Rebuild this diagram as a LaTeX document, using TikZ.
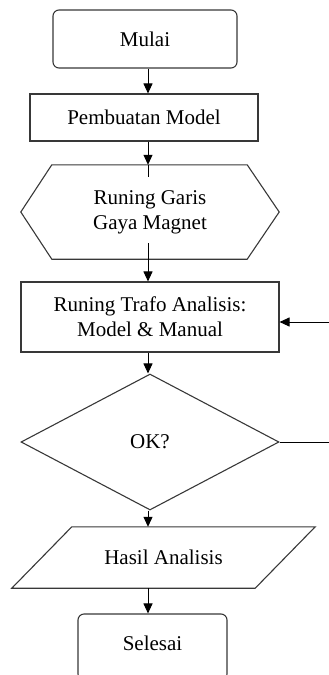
\documentclass[tikz,border=0pt]{standalone}
\usepackage{fontspec}
\setmainfont{Liberation Serif}
\usetikzlibrary{arrows.meta,shapes.geometric,calc}
\begin{document}
\begin{tikzpicture}[x=1pt,y=-1pt,
  every node/.style={font=\rmfamily\fontsize{21}{25}\selectfont, align=center, inner sep=0pt},
  shapeline/.style={draw=black!78, line width=1.1pt},
  rbox/.style={shapeline, rectangle, rounded corners=6pt},
  pbox/.style={shapeline, rectangle},
  arr/.style={-{Triangle[length=10pt,width=9pt]}, line width=1pt, black},
  plain/.style={line width=1pt, black}]
\useasboundingbox (0,0) rectangle (329,675);
\coordinate (cx) at (148,0);
\node[rbox, minimum width=184pt, minimum height=58pt] (mulai) at (145,39) {Mulai};
\node[pbox, minimum width=228pt, minimum height=47pt] (model) at (144,117.5) {Pembuatan Model};
\node[minimum width=258pt, minimum height=94pt] (hex) at (150,212) {Runing Garis\\Gaya Magnet};
\draw[shapeline] (hex.west) -- ($(hex.north west)+(31,0)$) -- ($(hex.north east)+(-32,0)$) -- (hex.east) -- ($(hex.south east)+(-32,0)$) -- ($(hex.south west)+(31,0)$) -- cycle;
\node[pbox, minimum width=258pt, minimum height=70pt] (trafo) at (150,317) {Runing Trafo Analisis:\\Model \& Manual};
\node[diamond, shapeline, minimum width=258pt, minimum height=136pt] (ok) at (150,442) {OK?};
\node[minimum width=243pt, minimum height=61pt] (hasil) at (163.5,557.5) {Hasil Analisis};
\draw[shapeline] ($(hasil.north west)+(30,0)$) -- ($(hasil.north east)+(30,0)$) -- ($(hasil.south east)+(-30,0)$) -- ($(hasil.south west)+(-30,0)$) -- cycle;
\node[rbox, minimum width=149pt, minimum height=66pt, text depth=8pt] (selesai) at (152.5,647) {Selesai};
\draw[arr] (mulai.south -| cx) -- (model.north -| cx);
\draw[arr] (model.south -| cx) -- (hex.north -| cx);
\draw[plain] (hex.north -| cx) -- ++(0,12);
\draw[arr] ($(hex.south -| cx)+(0,-16)$) -- (trafo.north -| cx);
\draw[arr] (trafo.south -| cx) -- (ok.north -| cx);
\draw[arr] (ok.south -| cx) -- (hasil.north -| cx);
\draw[arr] (hasil.south -| cx) -- (selesai.north -| cx);
\coordinate (fbin) at (329,322);
\coordinate (fbout) at (329,442);
\draw[arr] (fbin) -- (trafo.east |- fbin);
\draw[plain] (ok.east) -- (fbout);
\end{tikzpicture}
\end{document}
